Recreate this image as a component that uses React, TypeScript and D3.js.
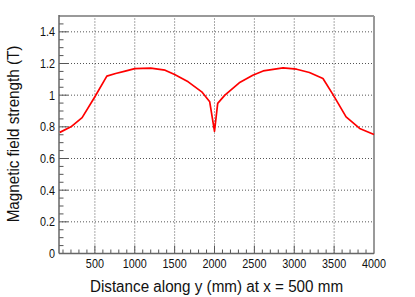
// @ts-nocheck
import * as d3 from "d3";

const W = 415;
const H = 297;
const margin = { top: 16, right: 41, bottom: 43.5, left: 59 };

// distance along y (mm) and field strength (T)
const distances = [60, 200, 340, 500, 650, 760, 880, 1000, 1200, 1380, 1500, 1670, 1840, 1940, 2000, 2040, 2130, 2310, 2480, 2610, 2860, 3030, 3190, 3360, 3490, 3650, 3820, 4000];
const fieldValues = [0.765, 0.8, 0.858, 0.99, 1.12, 1.137, 1.152, 1.168, 1.171, 1.158, 1.13, 1.084, 1.021, 0.958, 0.772, 0.948, 1.0, 1.078, 1.126, 1.153, 1.172, 1.164, 1.143, 1.105, 1.0, 0.863, 0.79, 0.752];

const xTicks = [500, 1000, 1500, 2000, 2500, 3000, 3500, 4000];
const yTicks = [0, 0.2, 0.4, 0.6, 0.8, 1, 1.2, 1.4];

const font = "'Liberation Sans', Arial, Helvetica, sans-serif";
// the original glyphs are a bit narrower than Liberation Sans
const squeeze = 0.88;

export default function App() {
  const x = d3.scaleLinear([50, 4000], [margin.left, W - margin.right]);
  const y = d3.scaleLinear([0, 1.5], [H - margin.bottom, margin.top]);

  const pts = distances.map((d, i) => [d, fieldValues[i]]);
  const line = d3.line().x(d => x(d[0])).y(d => y(d[1]));

  const x0 = margin.left, x1 = W - margin.right;
  const y0 = H - margin.bottom, y1 = margin.top;

  const xMinor = d3.range(100, 4001, 100);
  const yMinor = d3.range(0, 1.5001, 0.05);

  return (
    <svg width={W} height={H} style={{ position: "absolute", left: 0, top: 0 }}>
      <rect width={W} height={H} fill="#fff" />

      {/* grid */}
      {xTicks.slice(0, -1).map(t => (
        <line key={"gx" + t} x1={x(t)} x2={x(t)} y1={y0} y2={y1} stroke="#555" strokeWidth={1} strokeDasharray="1 2" />
      ))}
      {yTicks.slice(1).map(t => (
        <line key={"gy" + t} x1={x0} x2={x1} y1={y(t)} y2={y(t)} stroke="#555" strokeWidth={1} strokeDasharray="1 2" />
      ))}

      {/* ticks, drawn inside the frame */}
      {xMinor.map(t => {
        const major = t % 500 === 0;
        return <line key={"tx" + t} x1={x(t)} x2={x(t)} y1={y0} y2={y0 - (major ? 8 : 4)} stroke="#555" strokeWidth={1} />;
      })}
      {yMinor.map((t, i) => {
        const major = i % 4 === 0;
        return <line key={"ty" + i} x1={x0} x2={x0 + (major ? 9 : 4.5)} y1={y(t)} y2={y(t)} stroke="#555" strokeWidth={1} />;
      })}

      {/* frame */}
      <line x1={x0} x2={x1} y1={y1} y2={y1} stroke="#999" strokeWidth={2} />
      <line x1={x1} x2={x1} y1={y1} y2={y0} stroke="#999" strokeWidth={2} />
      <line x1={x0} x2={x0} y1={y1 - 1} y2={y0} stroke="#666" strokeWidth={1.5} />
      <line x1={x0} x2={x1} y1={y0} y2={y0} stroke="#666" strokeWidth={1.5} />

      <path d={line(pts)} fill="none" stroke="#ff0000" strokeWidth={1.7} strokeLinejoin="round" />

      {/* tick labels */}
      {xTicks.map(t => (
        <text key={"lx" + t} transform={`translate(${x(t)},${y0 + 14.5}) scale(${squeeze},1)`} textAnchor="middle" fontFamily={font} fontSize={12.3} fill="#111">{t}</text>
      ))}
      {yTicks.map(t => (
        <text key={"ly" + t} transform={`translate(${x0 - 4},${y(t) + 4.5}) scale(${squeeze},1)`} textAnchor="end" fontFamily={font} fontSize={12.3} fill="#111">{d3.format("~g")(t)}</text>
      ))}

      {/* axis titles */}
      <text transform={`translate(216.5,292) scale(${squeeze},1)`} textAnchor="middle" fontFamily={font} fontSize={17.3} fill="#111">Distance along y (mm) at x = 500 mm</text>
      <text transform={`translate(18.5,134) rotate(-90) scale(${squeeze},1)`} textAnchor="middle" fontFamily={font} fontSize={17.3} fill="#111">Magnetic field strength (T)</text>
    </svg>
  );
}
